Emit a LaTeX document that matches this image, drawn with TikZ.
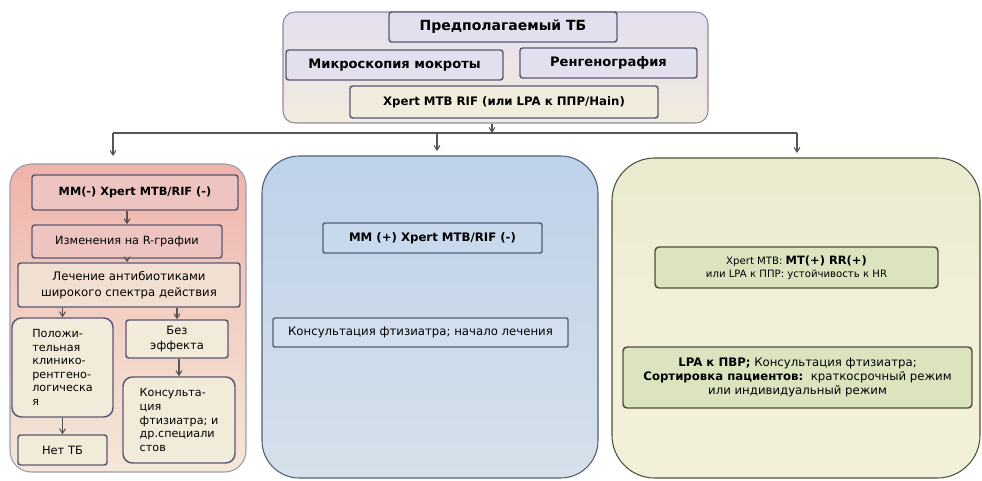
\documentclass[tikz,border=0pt]{standalone}
\usepackage{fontspec}
\setmainfont{DejaVu Sans}
\usetikzlibrary{arrows.meta,calc}
\definecolor{toplav}{HTML}{E4DFEE}
\definecolor{topbeige}{HTML}{F2ECDD}
\definecolor{lefttop}{HTML}{EFB3AA}
\definecolor{leftbot}{HTML}{F4E7D9}
\definecolor{pinkbox}{HTML}{EDC4BF}
\definecolor{beigebox}{HTML}{F3EBD9}
\definecolor{midtop}{HTML}{BED2EA}
\definecolor{midbot}{HTML}{D6E0EA}
\definecolor{rightfill}{HTML}{F3F0DA}
\definecolor{rightgreen}{HTML}{DDE3C0}
\definecolor{greenbox}{HTML}{DCE4BF}
\definecolor{bordpur}{HTML}{5B5874}
\definecolor{bordblue}{HTML}{4F6178}
\definecolor{bordgreen}{HTML}{4A5238}
\definecolor{linegray}{HTML}{555555}
\newcommand\bx[7]{\node[#6, minimum width={(#4-#2)*0.75pt}, minimum height={(#5-#3)*0.75pt}] (#1) at ({(#2+#4)/2},{(#3+#5)/2}) {#7};}
\tikzset{
  panel/.style={draw, line width=0.8pt, inner sep=0pt},
  lavbox/.style={draw=bordpur, line width=1.1pt, rounded corners=2pt, fill=toplav, inner sep=1pt, align=center},
  pinkb/.style={draw=bordpur, line width=1.1pt, rounded corners=2pt, fill=pinkbox, inner sep=1pt, align=center},
  beigeb/.style={draw=bordpur, line width=1.1pt, rounded corners=2pt, fill=beigebox, inner sep=1pt, align=center},
  blueb/.style={draw=bordblue, line width=1.1pt, rounded corners=1.5pt, fill=midtop!85!white, inner sep=1pt, align=center},
  greenb/.style={draw=bordgreen, line width=1.1pt, rounded corners=3pt, fill=greenbox, inner sep=1pt, align=center},
  arr/.style={draw=linegray, line width=0.8pt, -{Straight Barb[length=3.5pt,width=4.5pt]}},
  conn/.style={draw=linegray, line width=1pt}
}
\begin{document}
\begin{tikzpicture}[x=0.75pt,y=-0.75pt]
\useasboundingbox (0,0) rectangle (982,481);
% top group
\bx{topbg}{283}{12}{708}{123}{panel, draw=bordpur!70, rounded corners=9pt, top color=toplav, bottom color=topbeige}{}
\bx{tb}{389}{12}{617}{42}{lavbox, font=\fontsize{10.5}{12}\selectfont\bfseries}{Предполагаемый ТБ}
\bx{micro}{286}{50}{503}{80}{lavbox, font=\fontsize{9.8}{12}\selectfont\bfseries}{Микроскопия мокроты}
\bx{rentg}{520}{48}{697}{78}{lavbox, font=\fontsize{9.8}{12}\selectfont\bfseries}{Ренгенография}
\bx{xpert}{350}{86}{658}{118}{beigeb, fill=topbeige, font=\fontsize{8.8}{11}\selectfont\bfseries}{Xpert MTB RIF (или LPA к ППР/Hain)}
% split
\coordinate (j) at (492,133);
\coordinate (jl) at (113,133);
\coordinate (jr) at (797,133);
\coordinate (el) at (113,156);
\coordinate (em) at (437,151);
\coordinate (er) at (797,153);
\draw[arr] (j |- topbg.south) -- (j);
\draw[conn] (jl) -- (jr);
\draw[arr] (jl) -- (el);
\draw[arr] (em |- jl) -- (em);
\draw[arr] (jr) -- (er);
% left panel
\bx{lp}{10}{164}{246}{472}{panel, draw=bordpur!60, rounded corners=16pt, top color=lefttop, bottom color=leftbot, middle color=lefttop!45!leftbot}{}
\bx{mmneg}{32}{175}{238}{210}{pinkb, font=\fontsize{8.5}{10}\selectfont\bfseries}{ММ(-) Xpert MTB/RIF (-)}
\bx{izm}{32}{225}{222}{258}{pinkb, font=\fontsize{8.5}{10}\selectfont}{Изменения на R-графии}
\bx{lech}{18}{263}{240}{307}{beigeb, fill=beigebox!70!pinkbox, font=\fontsize{8.8}{12}\selectfont}{Лечение антибиотиками\\широкого спектра действия}
\bx{pol}{12}{318}{113}{417}{beigeb, rounded corners=7pt, font=\fontsize{8.4}{10.2}\selectfont, align=left}{Положи-\\тельная\\клинико-\\рентгено-\\логическа\\я}
\bx{bez}{126}{320}{228}{358}{beigeb, font=\fontsize{8.6}{11}\selectfont}{Без\\эффекта}
\bx{kons}{123}{377}{235}{463}{beigeb, rounded corners=7pt, font=\fontsize{8.4}{10.2}\selectfont, align=left}{Консульта-\\ция\\фтизиатра; и\\др.специали\\стов}
\bx{net}{18}{435}{107}{465}{beigeb, font=\fontsize{8.6}{11}\selectfont}{Нет ТБ}
\draw[arr] (izm.north |- mmneg.south) -- (izm.north);
\draw[arr] (izm.south) -- (izm.south |- lech.north);
\draw[arr] (pol.north |- lech.south) -- (pol.north);
\draw[arr] (bez.north |- lech.south) -- (bez.north);
\draw[arr] (kons.north |- bez.south) -- (kons.north);
\draw[arr] (pol.south) -- (pol.south |- net.north);
% middle panel
\bx{mp}{262}{156}{598}{478}{panel, draw=bordblue, rounded corners=28pt, top color=midtop, bottom color=midbot}{}
\bx{mmpos}{323}{223}{542}{253}{blueb, font=\fontsize{8.8}{11}\selectfont\bfseries}{ММ (+) Xpert MTB/RIF (-)}
\bx{konsm}{273}{318}{568}{347}{blueb, fill=midtop!70!white, font=\fontsize{8.8}{11}\selectfont}{Консультация фтизиатра; начало лечения}
% right panel
\bx{rp}{612}{158}{980}{478}{panel, draw=bordgreen, rounded corners=32pt, top color=rightfill!55!rightgreen, bottom color=rightfill, middle color=rightfill}{}
\bx{xr}{655}{247}{938}{288}{greenb, font=\fontsize{7.6}{10}\selectfont}{Xpert MTB: {\fontsize{8.6}{10}\selectfont\bfseries MT(+) RR(+)}\\или LPA к ППР: устойчивость к HR}
\bx{lpa}{623}{347}{972}{408}{greenb, font=\fontsize{8.8}{10.6}\selectfont}{\textbf{LPA к ПВР;} Консультация фтизиатра;\\\textbf{Сортировка пациентов:}\ \ краткосрочный режим\\или индивидуальный режим}
\end{tikzpicture}
\end{document}
